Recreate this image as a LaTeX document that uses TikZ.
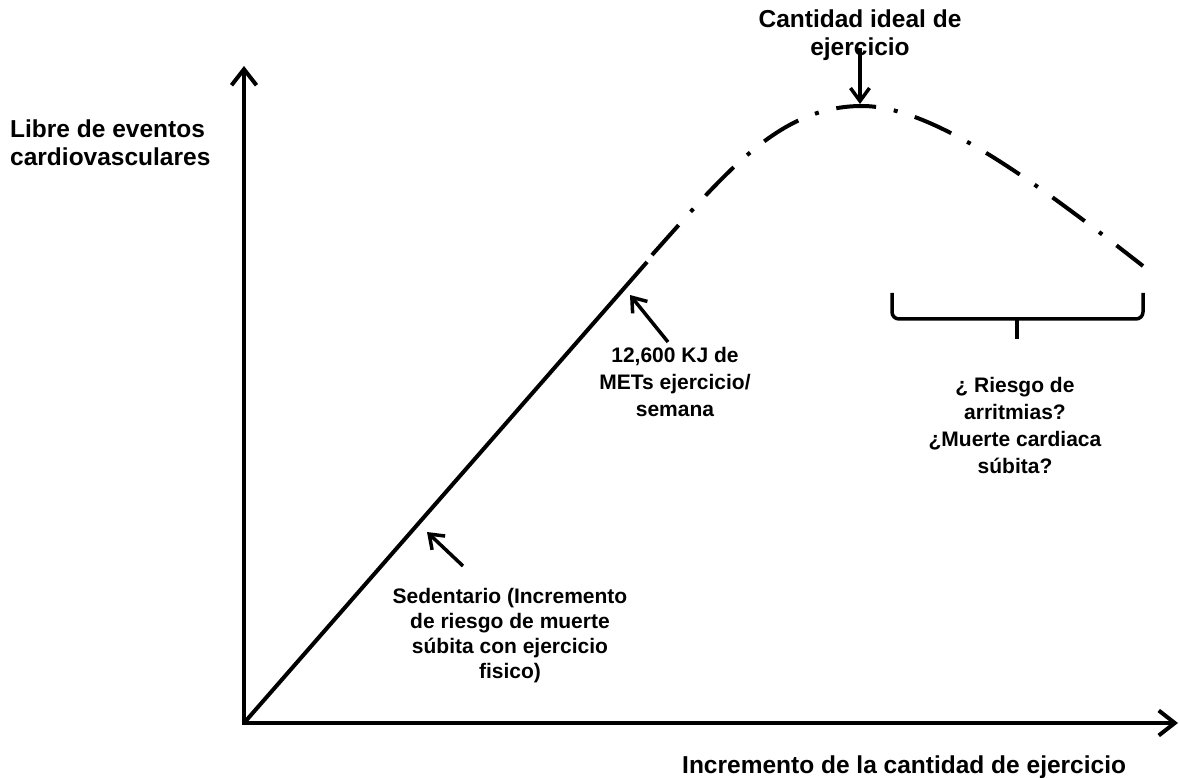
\documentclass[tikz,border=0pt]{standalone}
\usepackage{fontspec}
\setmainfont{Liberation Sans}
\usetikzlibrary{arrows.meta}
\begin{document}
\begin{tikzpicture}[x=1pt,y=-1pt,
  axis/.style={line width=4pt, {Straight Barb[length=16pt,width=25pt]}-{Straight Barb[length=16pt,width=25pt]}},
  ann/.style={line width=3.5pt, -{Straight Barb[length=13pt,width=19pt]}},
  curve/.style={line width=4pt},
  dashdot/.style={line width=4pt, dash pattern=on 40pt off 18pt on 4pt off 18pt},
  brace/.style={line width=3.5pt, rounded corners=7pt},
  small/.style={font=\bfseries\fontsize{21}{25}\selectfont, align=center, inner sep=0pt, anchor=north},
  big/.style={font=\bfseries\fontsize{24.5}{28}\selectfont, inner sep=0pt}]
\useasboundingbox (0,0) rectangle (1179,778);
% axes
\coordinate (O) at (244,723);
\coordinate (Ytop) at (244,66);
\coordinate (Xend) at (1178,723);
\draw[axis] (Ytop) -- (O) -- (Xend);
% solid part
\coordinate (S) at (647,262);
\draw[curve] (O) -- (S);
% dash-dot part
\coordinate (C0) at (652,255);
\coordinate (P) at (862,106);
\coordinate (E) at (1143,266);
\draw[dashdot] (C0) .. controls (727,171) and (780,106) .. (P)
  .. controls (935,106) and (1043,188) .. (E);
% labels
\node[big, anchor=north west, align=left] (ylab) at (10,119.5) {Libre de eventos\\cardiovasculares};
\node[big, anchor=base west] (xlab) at (682,773) {Incremento de la cantidad de ejercicio};
\node[big, anchor=north, align=center] (ideal) at (860,9.5) {Cantidad ideal de\\ejercicio};
\coordinate (idealtail) at (860,48);
\coordinate (idealtip) at (860,104);
\draw[ann] (idealtail) -- (idealtip);
% 12,600
\node[small, font=\bfseries\fontsize{21}{27}\selectfont] (kj) at (675,347) {12,600 KJ de\\METs ejercicio/\\semana};
\coordinate (kjtail) at (668,342);
\coordinate (kjtip) at (630,295);
\draw[ann] (kjtail) -- (kjtip);
% sedentario
\node[small] (sed) at (510,588) {Sedentario (Incremento\\de riesgo de muerte\\súbita con ejercicio\\fisico)};
\coordinate (sedtail) at (463,566);
\coordinate (sedtip) at (427,532);
\draw[ann] (sedtail) -- (sedtip);
% brace
\coordinate (B1) at (892,293);
\coordinate (Bm) at (1017,319);
\coordinate (B2) at (1143,293);
\coordinate (Bt) at (1017,339);
\draw[brace] (B1) |- (Bm) -| (B2);
\draw[line width=3.5pt] (Bm) -- (Bt);
\node[small, font=\bfseries\fontsize{21}{27}\selectfont] (arr) at (1015,377) {¿ Riesgo de\\arritmias?\\¿Muerte cardiaca\\súbita?};
\end{tikzpicture}
\end{document}
